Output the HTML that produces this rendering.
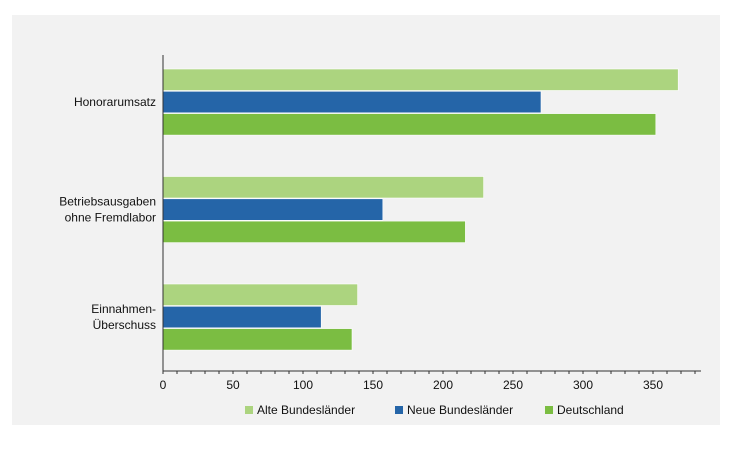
<!DOCTYPE html>
<html><head><meta charset="utf-8"><style>
body{margin:0;background:#fff;font-family:"Liberation Sans",sans-serif}
svg text{font-family:"Liberation Sans",sans-serif;font-size:12px;fill:#111}
</style></head><body>
<svg width="750" height="462" xmlns="http://www.w3.org/2000/svg">
<rect x="12" y="15" width="708" height="410" fill="#f2f2f2"/>
<g id="bars"></g><g id="axis"></g><g id="labels"></g>
<g>
<rect x="245" y="406" width="8" height="8" fill="#acd47f"/>
<text x="257" y="414">Alte Bundesländer</text>
<rect x="395" y="406" width="8" height="8" fill="#2565a8"/>
<text x="407" y="414">Neue Bundesländer</text>
<rect x="545" y="406" width="8" height="8" fill="#7bbd42"/>
<text x="557" y="414">Deutschland</text>
</g>
</svg>
<script>
const categories=[["Honorarumsatz"],["Betriebsausgaben","ohne Fremdlabor"],["Einnahmen-","Überschuss"]];
const alte=[368,229,139];
const neue=[270,157,113];
const deutschland=[352,216,135];
const ticks=[0,50,100,150,200,250,300,350];
const NS="http://www.w3.org/2000/svg";
const x0=163,k=1.4,axisY=371;
const xs=v=>x0+v*k;
const gy=i=>69+i*107.5;
const series=[[alte,"#acd47f","alte"],[neue,"#2565a8","neue"],[deutschland,"#7bbd42","deutschland"]];
function mk(t,a,p){const e=document.createElementNS(NS,t);for(const n in a)e.setAttribute(n,a[n]);document.getElementById(p).appendChild(e);return e;}
series.forEach((s,si)=>{s[0].forEach((v,i)=>{
 const r=mk("rect",{x:xs(0),y:gy(i)+si*22.3,width:xs(v)-xs(0),height:21.5,fill:s[1],stroke:"#fff","stroke-width":0.6},"bars");
 
 
});});
categories.forEach((c,i)=>{
 const cy=gy(i)+33;
 c.forEach((ln,j)=>{
  const t=mk("text",{x:156,y:cy+4+(j-(c.length-1)/2)*16,"text-anchor":"end"},"labels");
  t.textContent=ln;
  
  
 });
});
const yl=mk("line",{x1:x0,y1:55,x2:x0,y2:axisY,stroke:"#333"},"axis");


const xl=mk("line",{x1:x0,y1:axisY,x2:701,y2:axisY,stroke:"#333"},"axis");


for(let v=0;v<=385;v+=10){
 const tk=mk("line",{x1:xs(v),y1:axisY,x2:xs(v),y2:axisY+3,stroke:"#333"},"axis");
 
 
}
ticks.forEach(v=>{
 const t=mk("text",{x:xs(v),y:axisY+18,"text-anchor":"middle"},"axis");
 t.textContent=v;
 
 
});
</script>
</body></html>
